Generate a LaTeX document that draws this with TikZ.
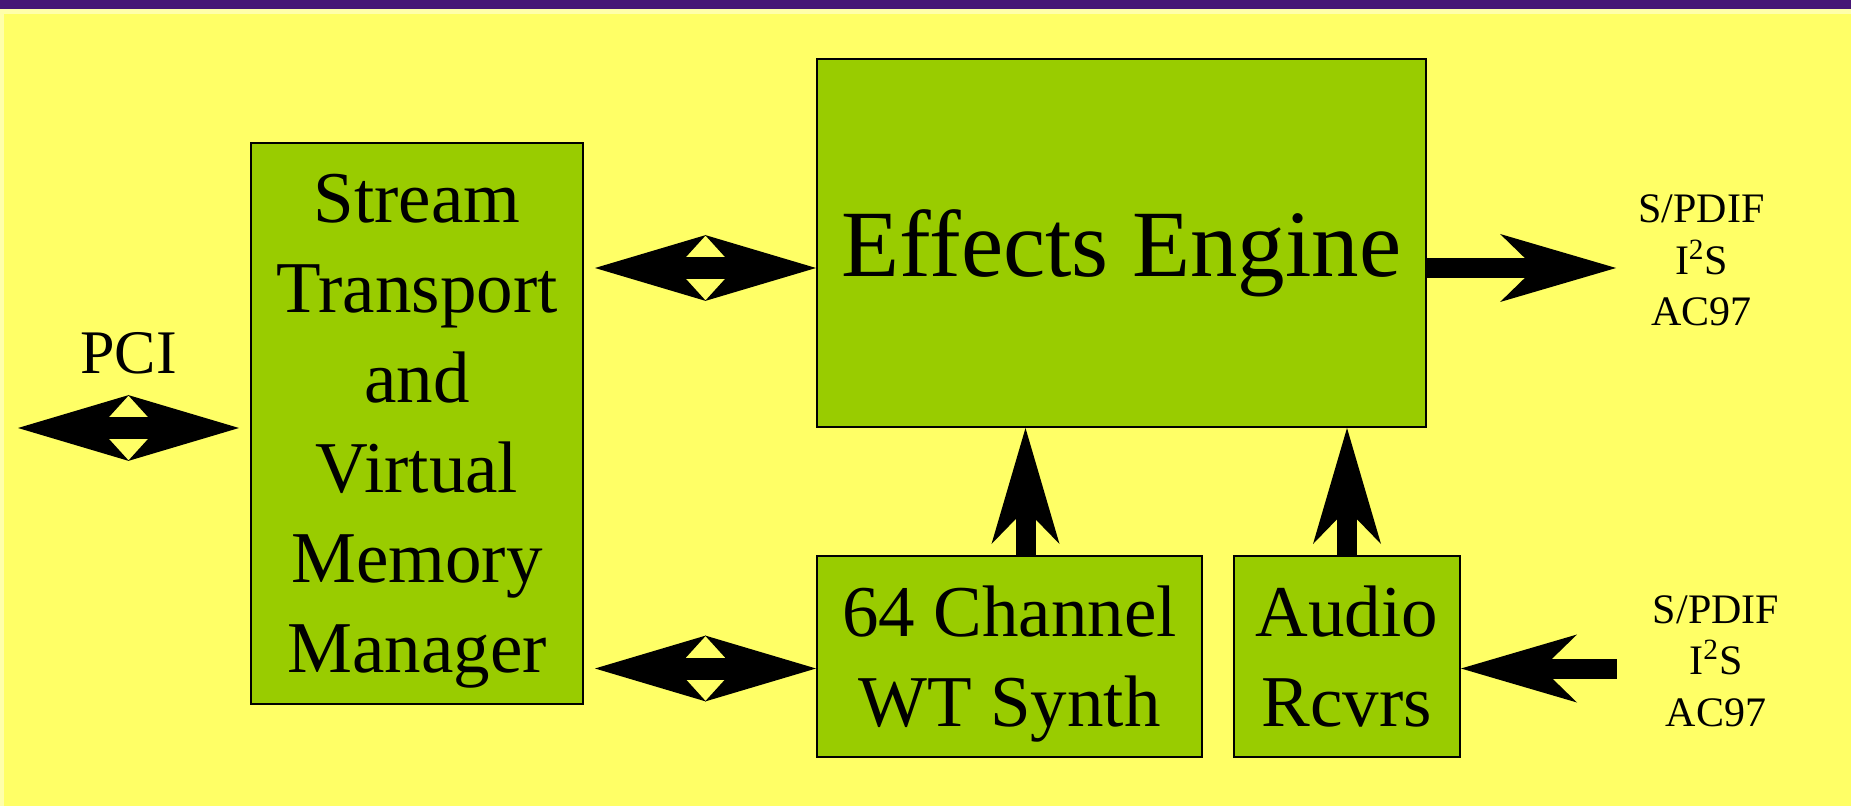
\documentclass[tikz,border=0pt]{standalone}
\usepackage{fontspec}
\setmainfont{Liberation Serif}
\usetikzlibrary{arrows.meta}
\definecolor{slidebg}{RGB}{255,255,102}
\definecolor{slidebar}{RGB}{70,22,118}
\definecolor{slideedge}{RGB}{255,255,170}
\definecolor{blockfill}{RGB}{153,204,0}
\tikzset{
	block/.style = {draw = black, line width = 1pt, fill = blockfill, align = center, inner sep = 0pt, text depth = 0pt, font = {\fontsize{36.5pt}{45pt}\selectfont}},
	ports/.style = {align = center, inner sep = 0pt, font = {\fontsize{21pt}{25.75pt}\selectfont}},
	bus/.style = {line width = 11pt, {Stealth[length = 55.5pt, width = 33pt, inset = 15pt, line width = 0pt]}-{Stealth[length = 55.5pt, width = 33pt, inset = 15pt, line width = 0pt]}},
	flow/.style = {line width = 10pt, -{Stealth[length = 58pt, width = 34pt, inset = 17.5pt, line width = 0pt]}}
}
\begin{document}
\begin{tikzpicture}[x = 0.5pt, y = -0.5pt]
	\useasboundingbox (0, 0) rectangle (1851, 806);
	\fill[slidebg] (0, 0) rectangle (1851, 806);
	\fill[slideedge] (0, 9) rectangle (1851, 14);
	\fill[slideedge] (0, 9) rectangle (3.5, 806);
	\fill[slidebar] (0, 0) rectangle (1851, 9.5);

	\node[block, minimum width = 166pt, minimum height = 280.5pt] (stream) at (417, 423.5) {Stream\\Transport\\and\\Virtual\\Memory\\Manager};
	\node[block, minimum width = 304.5pt, minimum height = 184pt, font = {\fontsize{47.5pt}{57pt}\selectfont}] (effects) at (1121.5, 243) {Effects Engine};
	\node[block, minimum width = 192.5pt, minimum height = 100.5pt] (synth) at (1009.5, 656.5) {64 Channel\\WT Synth};
	\node[block, minimum width = 113pt, minimum height = 100.5pt] (rcvrs) at (1347, 656.5) {Audio\\Rcvrs};

	\node[anchor = base, inner sep = 0pt, font = {\fontsize{31pt}{37pt}\selectfont}] (pci) at (128.5, 374) {PCI};
	\node[ports, anchor = base] (outports) at (1701.5, 326) {S/PDIF\\I\textsuperscript{2}S\\AC97};
	\node[ports, anchor = base] (inports) at (1716, 726) {S/PDIF\\I\textsuperscript{2}S\\AC97};

	\coordinate (host) at (18, 428);
	\draw[bus] (host) -- ([xshift = -5.5pt]stream.west |- host);
	\draw[bus] ([xshift = 5.5pt, yshift = -12.5pt]stream.east |- effects.west) -- ([yshift = -12.5pt]effects.west);
	\draw[bus] ([xshift = 5.5pt, yshift = -6pt]stream.east |- synth.west) -- ([yshift = -6pt]synth.west);
	\draw[flow] ([yshift = -12.5pt]effects.east) -- ([xshift = -11pt, yshift = -12.5pt]outports.west |- effects.east);
	\draw[flow] ([xshift = -18pt, yshift = -6pt]inports.west |- rcvrs.east) -- ([yshift = -6pt]rcvrs.east);
	\draw[flow] ([xshift = 8pt]synth.north) -- ([xshift = 8pt]synth.north |- effects.south);
	\draw[flow] (rcvrs.north) -- (rcvrs.north |- effects.south);
\end{tikzpicture}
\end{document}
